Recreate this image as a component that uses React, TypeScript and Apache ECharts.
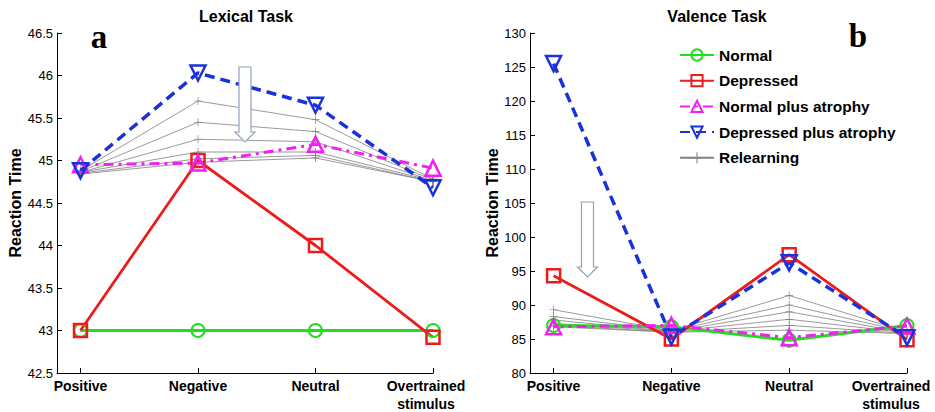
import { useEffect, useRef } from 'react';
import * as echarts from 'echarts';

const categories = ['Positive', 'Negative', 'Neutral', 'Overtrained\nstimulus'];
const categoryPositions = [1, 2, 3, 4];

const nameNormal = 'Normal';
const nameDepressed = 'Depressed';
const nameNormalAtrophy = 'Normal plus atrophy';
const nameDepressedAtrophy = 'Depressed plus atrophy';
const nameRelearning = 'Relearning';

// Lexical task (panel a)
const lexicalNormal = [43, 43, 43, 43];
const lexicalDepressed = [43, 45, 44, 42.92];
const lexicalNormalAtrophy = [44.95, 44.97, 45.19, 44.91];
const lexicalDepressedAtrophy = [44.88, 46.03, 45.65, 44.68];
const lexicalRelearning1 = [44.88, 45.7, 45.48, 44.78];
const lexicalRelearning2 = [44.87, 45.45, 45.34, 44.77];
const lexicalRelearning3 = [44.86, 45.25, 45.22, 44.76];
const lexicalRelearning4 = [44.86, 45.1, 45.1, 44.76];
const lexicalRelearning5 = [44.85, 45.02, 45.06, 44.75];
const lexicalRelearning6 = [44.84, 44.98, 45.03, 44.75];

// Valence task (panel b)
const valenceNormal = [87.0, 86.8, 84.8, 87.0];
const valenceDepressed = [94.3, 85.0, 97.4, 84.9];
const valenceNormalAtrophy = [86.8, 87.0, 85.2, 86.9];
const valenceDepressedAtrophy = [125.5, 85.3, 96.2, 85.2];
const valenceRelearning1 = [89.3, 86.2, 91.4, 86.0];
const valenceRelearning2 = [88.3, 86.2, 90.0, 86.0];
const valenceRelearning3 = [87.8, 86.1, 89.0, 85.9];
const valenceRelearning4 = [87.3, 86.1, 87.9, 85.9];
const valenceRelearning5 = [87.0, 86.0, 87.0, 85.8];
const valenceRelearning6 = [86.8, 86.0, 86.3, 85.8];

const lexicalYTicks = { min: 42.5, max: 46.5, interval: 0.5 };
const valenceYTicks = { min: 80, max: 130, interval: 5 };

const GREEN = '#1fe01f';
const RED = '#ec1c1c';
const MAGENTA = '#f020f0';
const BLUE = '#1a32dc';
const GRAY = '#808080';
const PLUS = 'path://M4.55,0H5.45V10H4.55ZM0,4.55H10V5.45H0Z';
const FONT = 'Liberation Sans, Arial, sans-serif';

function toPoints(values: number[]) {
  return values.map((v, i) => [categoryPositions[i], v]);
}

function mainSeries(idx: number, normal: number[], dep: number[], na: number[], da: number[]) {
  const base = { type: 'line', xAxisIndex: idx, yAxisIndex: idx, z: 3, showAllSymbol: true };
  return [
    {
      ...base, name: nameNormal, data: toPoints(normal), symbol: 'circle', symbolSize: 13,
      lineStyle: { color: GREEN, width: 3 },
      itemStyle: { color: 'rgba(255,255,255,0)', borderColor: GREEN, borderWidth: 2 },
    },
    {
      ...base, name: nameDepressed, data: toPoints(dep), symbol: 'rect', symbolSize: 13,
      lineStyle: { color: RED, width: 2.8 },
      itemStyle: { color: 'rgba(255,255,255,0)', borderColor: RED, borderWidth: 2.5 },
    },
    {
      ...base, name: nameNormalAtrophy, data: toPoints(na), symbol: 'triangle', symbolSize: 15,
      lineStyle: { color: MAGENTA, width: 3, type: [10, 5, 3, 5] },
      itemStyle: { color: 'rgba(255,255,255,0)', borderColor: MAGENTA, borderWidth: 2.5 },
    },
    {
      ...base, name: nameDepressedAtrophy, data: toPoints(da), symbol: 'triangle', symbolRotate: 180, symbolSize: 15,
      lineStyle: { color: BLUE, width: 3.5, type: [10, 6] },
      itemStyle: { color: 'rgba(255,255,255,0)', borderColor: BLUE, borderWidth: 2.5 },
    },
  ];
}

function relearningSeries(idx: number, lines: number[][]) {
  return lines.map((values) => ({
    type: 'line', name: nameRelearning, xAxisIndex: idx, yAxisIndex: idx, z: 2,
    data: toPoints(values), symbol: PLUS, symbolSize: 8,
    lineStyle: { color: GRAY, width: 0.8 },
    itemStyle: { color: GRAY },
  }));
}

const labelFont = { color: '#000', fontFamily: FONT, fontSize: 14, fontWeight: 'bold', lineHeight: 18 };

function xAxis(gridIndex: number, lastShift: number) {
  return {
    type: 'value', gridIndex, min: 0.8, max: 4.0,
    axisLine: { show: true, onZero: false, lineStyle: { color: '#000', width: 1 } },
    axisTick: { show: true, inside: true, length: 5, customValues: categoryPositions, lineStyle: { color: '#000' } },
    axisLabel: {
      customValues: categoryPositions,
      formatter: (v: number) => {
        const i = categoryPositions.indexOf(Math.round(v));
        if (i < 0) return '';
        const text = categories[i];
        if (i === categories.length - 1) {
          return text.split('\n').map((s) => `{last|${s}}`).join('\n');
        }
        return text;
      },
      ...labelFont,
      margin: 4,
      rich: { last: { ...labelFont, padding: [0, lastShift, 0, 0] } },
    },
    splitLine: { show: false },
  };
}

function yAxis(gridIndex: number, t: { min: number; max: number; interval: number }, gap: number) {
  return {
    type: 'value', gridIndex, min: t.min, max: t.max, interval: t.interval,
    name: 'Reaction Time', nameLocation: 'middle', nameGap: gap,
    nameTextStyle: { color: '#000', fontFamily: FONT, fontSize: 16, fontWeight: 'bold' },
    axisLine: { show: true, lineStyle: { color: '#000', width: 1 } },
    axisTick: { show: true, inside: true, length: 5, lineStyle: { color: '#000' } },
    axisLabel: { color: '#000', fontFamily: FONT, fontSize: 13, margin: 4, showMinLabel: true, showMaxLabel: true },
    splitLine: { show: false },
  };
}

function arrow(cx: number, top: number, headTop: number, tip: number) {
  return {
    type: 'polygon',
    shape: {
      points: [
        [cx - 6, top], [cx + 6, top], [cx + 6, headTop], [cx + 10, headTop],
        [cx, tip], [cx - 10, headTop], [cx - 6, headTop],
      ],
    },
    style: { fill: '#ffffff', stroke: '#8fa3ba', lineWidth: 1.2 },
    z: 10,
  };
}

function label(text: string, x: number, y: number, font: string) {
  return { type: 'text', x, y, style: { text, fill: '#000', font, align: 'center', verticalAlign: 'middle' } };
}

export default function App() {
  const ref = useRef<HTMLDivElement>(null);
  useEffect(() => {
    if (!ref.current) return;
    const chart = echarts.init(ref.current, undefined, { renderer: 'svg' });
    chart.setOption({
      animation: false,
      backgroundColor: '#ffffff',
      textStyle: { fontFamily: FONT },
      grid: [
        { left: 57, top: 33, width: 376, height: 340, outerBoundsMode: 'none' },
        { left: 530, top: 33, width: 377, height: 340, outerBoundsMode: 'none' },
      ],
      xAxis: [xAxis(0, 14), xAxis(1, 32)],
      yAxis: [yAxis(0, lexicalYTicks, 34), yAxis(1, valenceYTicks, 27)],
      legend: {
        orient: 'vertical', left: 674, top: 42,
        data: [nameNormal, nameDepressed, nameNormalAtrophy, nameDepressedAtrophy, nameRelearning],
        itemWidth: 34, itemHeight: 14, itemGap: 9.7,
        textStyle: { color: '#000', fontFamily: FONT, fontSize: 15.5, fontWeight: 'bold', lineHeight: 14 },
        selectedMode: false,
      },
      graphic: [
        label('Lexical Task', 246, 16, 'bold 16px Liberation Sans, Arial, sans-serif'),
        label('Valence Task', 717, 16, 'bold 16px Liberation Sans, Arial, sans-serif'),
        label('a', 99, 37, 'bold 33px Liberation Serif, Times New Roman, serif'),
        label('b', 858, 36, 'bold 33px Liberation Serif, Times New Roman, serif'),
        arrow(245, 67, 132, 142),
        arrow(587.5, 202, 267, 277),
      ],
      series: [
        ...relearningSeries(0, [lexicalRelearning1, lexicalRelearning2, lexicalRelearning3, lexicalRelearning4, lexicalRelearning5, lexicalRelearning6]),
        ...mainSeries(0, lexicalNormal, lexicalDepressed, lexicalNormalAtrophy, lexicalDepressedAtrophy),
        ...relearningSeries(1, [valenceRelearning1, valenceRelearning2, valenceRelearning3, valenceRelearning4, valenceRelearning5, valenceRelearning6]),
        ...mainSeries(1, valenceNormal, valenceDepressed, valenceNormalAtrophy, valenceDepressedAtrophy),
      ],
    });
    return () => chart.dispose();
  }, []);
  return <div ref={ref} style={{ position: 'fixed', left: 0, top: 0, width: 935, height: 412 }} />;
}
